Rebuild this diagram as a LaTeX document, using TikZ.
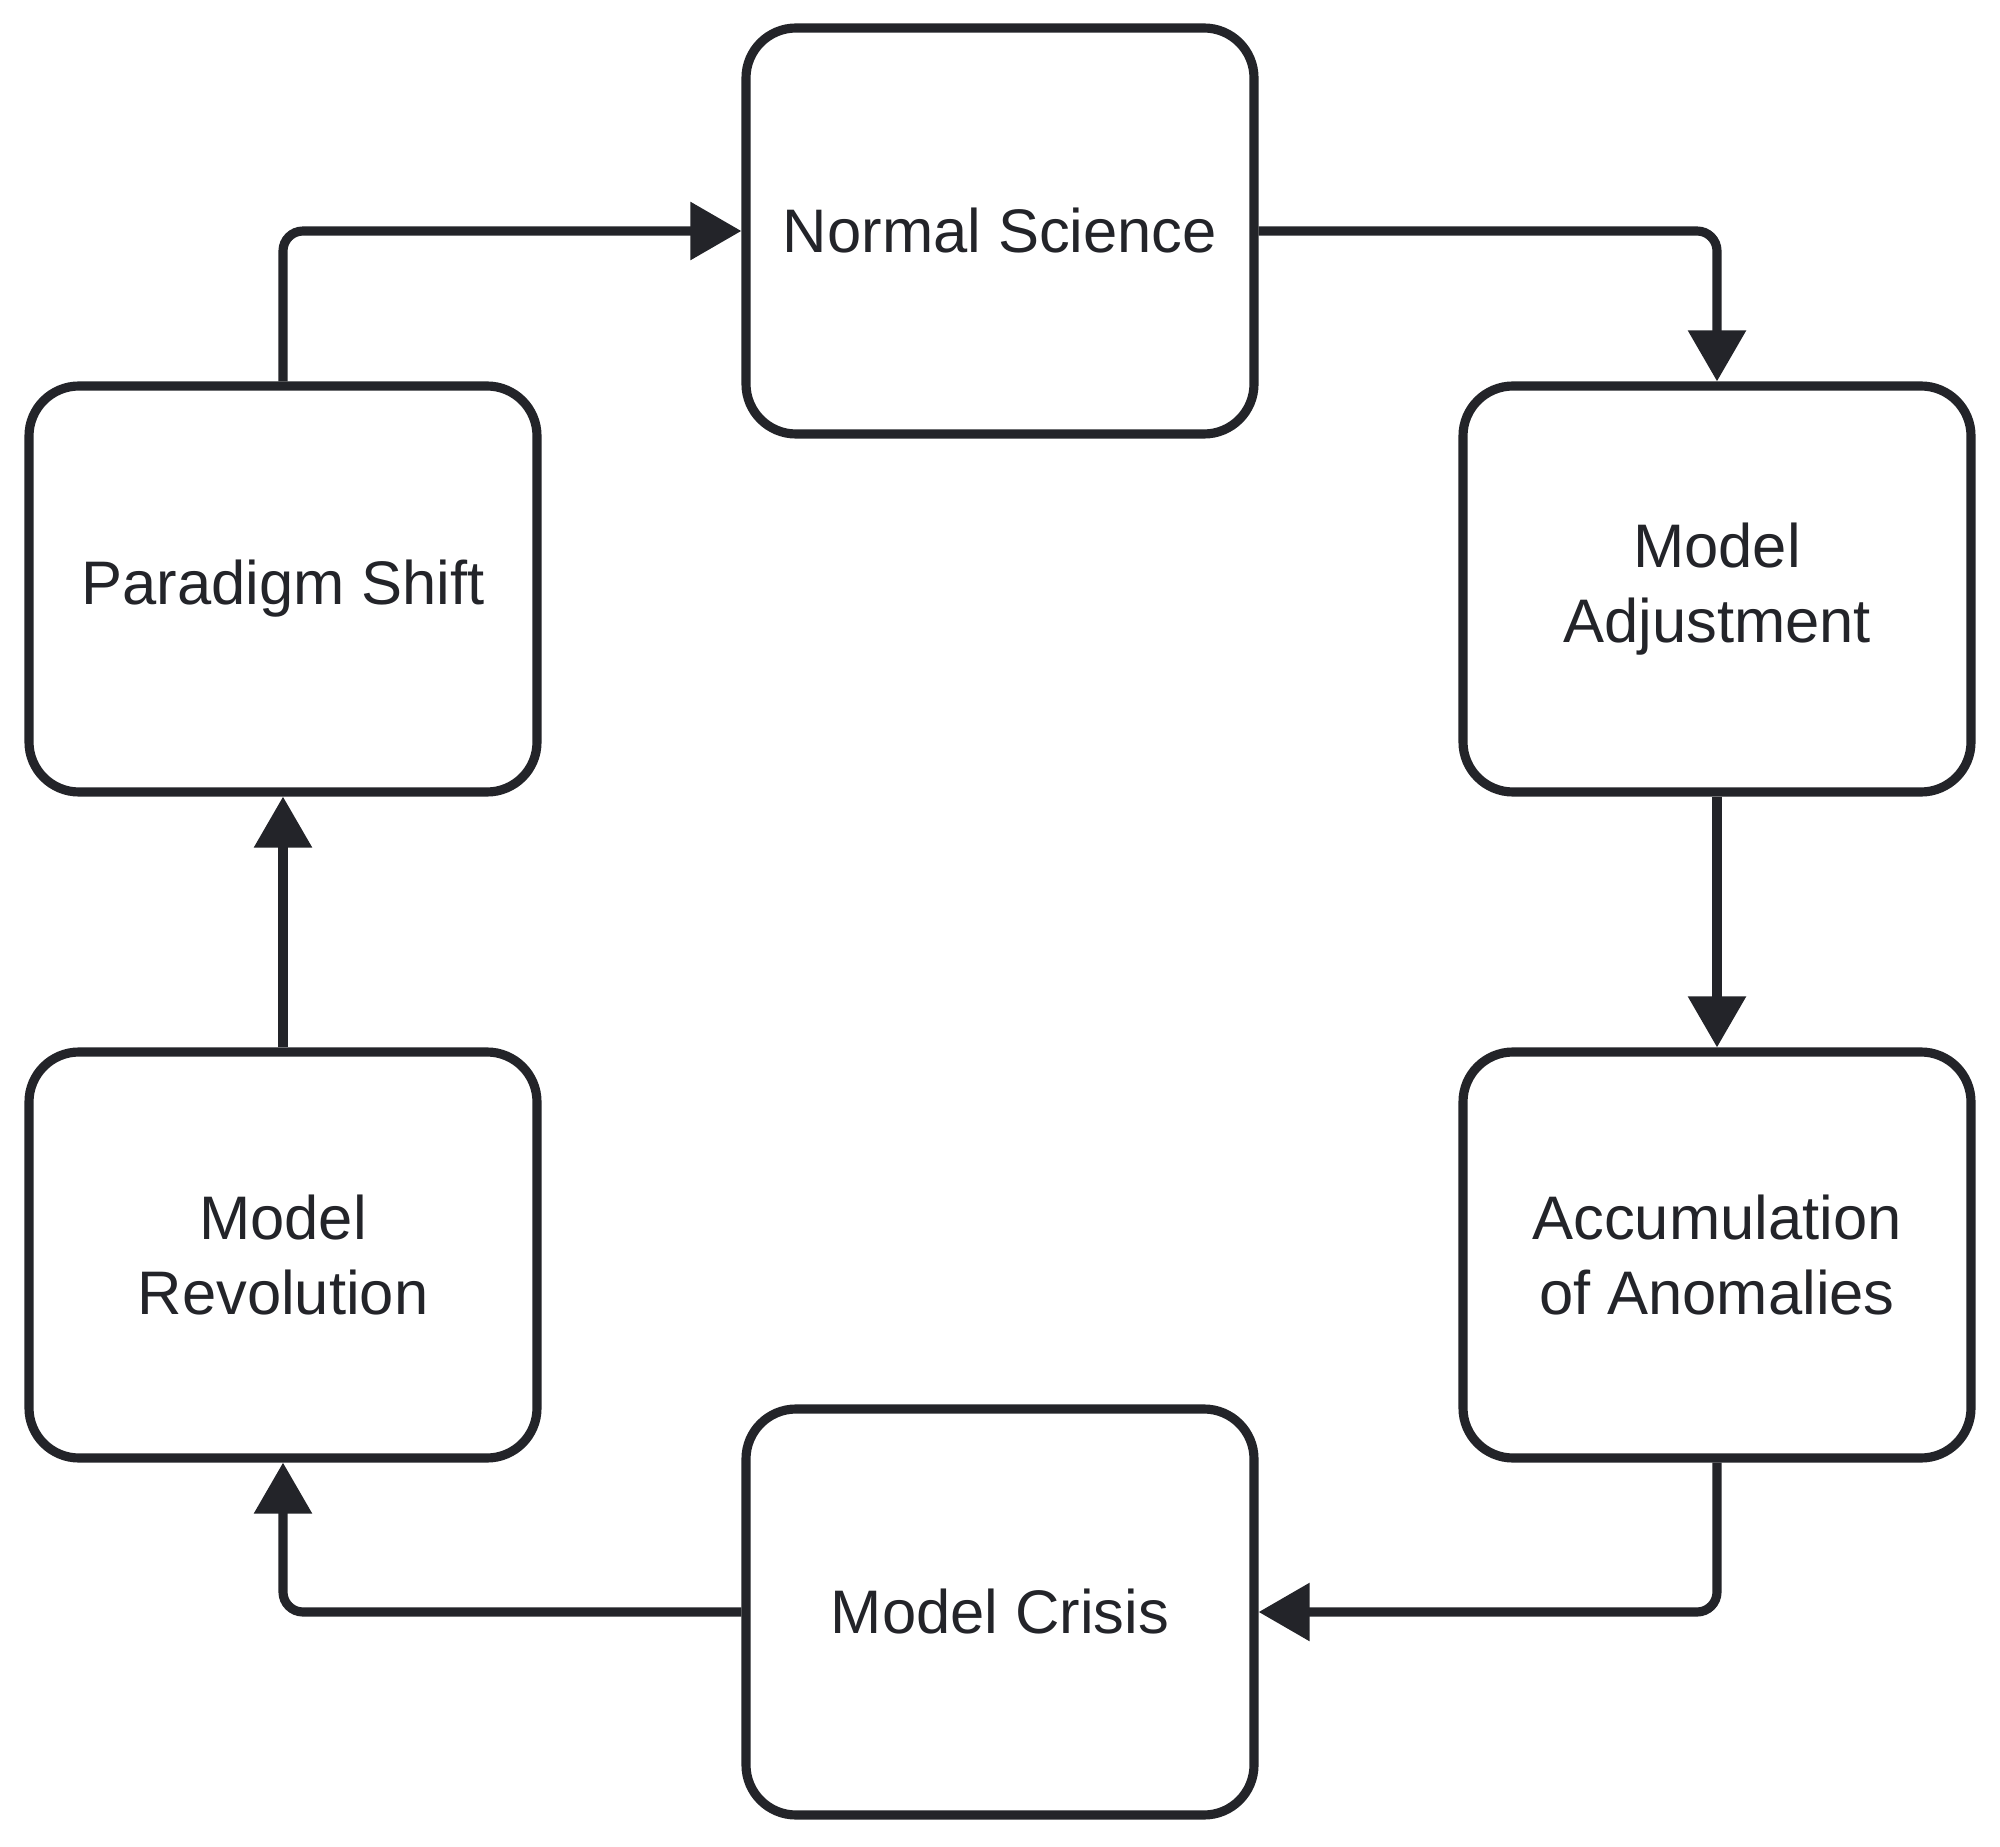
\documentclass[tikz,border=0pt]{standalone}
\usepackage{fontspec}
\setmainfont{Liberation Sans}
\usetikzlibrary{arrows.meta}
\definecolor{ink}{RGB}{35,36,41}
\begin{document}
\begin{tikzpicture}\tikzstyle{every node}=[font=\fontsize{17.5}{21.5}\selectfont, text=ink]
\tikzstyle{stage}=[draw=ink, fill=white, line width=2.6pt, rounded corners=0.5cm, minimum height=4.06cm, minimum width=5.08cm, align=center]
\tikzstyle{flow}=[draw=ink, line width=2.6pt, rounded corners=0.2cm, -{Triangle[length=5.1mm, width=5.6mm]}]
\useasboundingbox[fill=white] (0,0) rectangle (20,18.46);
\node[stage] (normal) at (10,16.15) {Normal Science};
\node[stage] (adjust) at (17.17,12.57) {Model\\Adjustment};
\node[stage] (anomaly) at (17.17,5.91) {Accumulation\\of Anomalies};
\node[stage] (crisis) at (10,2.34) {Model Crisis};
\node[stage] (revolution) at (2.83,5.91) {Model\\Revolution};
\node[stage] (shift) at (2.83,12.57) {Paradigm Shift};
%%%%%%%%%%%%%
\draw[flow] (normal.east) -| (adjust.north);
\draw[flow] (adjust) -- (anomaly);
\draw[flow] (anomaly.south) |- (crisis.east);
\draw[flow] (crisis.west) -| (revolution.south);
\draw[flow] (revolution) -- (shift);
\draw[flow] (shift.north) |- (normal.west);
\end{tikzpicture}
\end{document}
